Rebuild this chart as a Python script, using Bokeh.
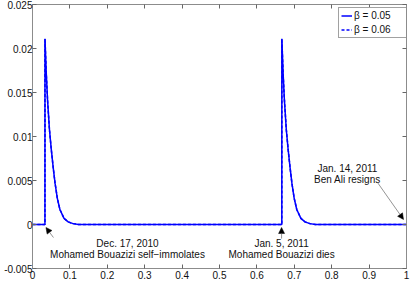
from bokeh.plotting import figure
from bokeh.models import (Range1d, FixedTicker, LinearAxis, Legend, LegendItem,
                          Label, Arrow, NormalHead)
from bokeh.embed import file_html
from bokeh.resources import INLINE

# ---- data ----
t_beta005 = [0, 0.0333, 0.0334, 0.0368, 0.0403, 0.0453, 0.0503, 0.0553, 0.0603,
             0.0663, 0.0733, 0.0843, 0.0953, 0.1083, 0.1233,
             0.6666, 0.6667, 0.6701, 0.6736, 0.6786, 0.6836, 0.6886, 0.6936,
             0.6996, 0.7066, 0.7176, 0.7286, 0.7416, 0.7566, 1.0]
r_beta005 = [0, 0, 0.0211, 0.0172, 0.0141, 0.0108, 0.0085, 0.0065, 0.0047,
             0.0030, 0.0017, 0.0007, 0.0003, 0.0001, 0.0,
             0, 0.0211, 0.0172, 0.0141, 0.0108, 0.0085, 0.0065, 0.0047,
             0.0030, 0.0017, 0.0007, 0.0003, 0.0001, 0.0, 0.0]
t_beta006 = list(t_beta005)
r_beta006 = list(r_beta005)

x_ticks = [0, 0.1, 0.2, 0.3, 0.4, 0.5, 0.6, 0.7, 0.8, 0.9, 1.0]
x_tick_labels = ["0", "0.1", "0.2", "0.3", "0.4", "0.5", "0.6", "0.7", "0.8", "0.9", "1"]
y_ticks = [-0.005, 0, 0.005, 0.01, 0.015, 0.02, 0.025]
y_tick_labels = ["-0.005", "0", "0.005", "0.01", "0.015", "0.02", "0.025"]

series_labels = ["\u03b2 = 0.05", "\u03b2 = 0.06"]

events_t = [0.0333, 0.6667, 1.0]
event_line1 = ["Dec. 17, 2010", "Jan. 5, 2011", "Jan. 14, 2011"]
event_line2 = ["Mohamed Bouazizi self\u2212immolates", "Mohamed Bouazizi dies", "Ben Ali resigns"]

FONT = "Liberation Sans"
AX = "#8c8c8c"
TXT = "#111111"

p = figure(width=415, height=291, output_backend="svg", toolbar_location=None,
           x_range=Range1d(0, 1), y_range=Range1d(-0.005, 0.025),
           min_border_left=32, min_border_right=9, min_border_top=4,
           min_border_bottom=23)
p.xgrid.visible = False
p.ygrid.visible = False
p.outline_line_color = AX
p.background_fill_color = "white"
p.border_fill_color = "white"

def style_axis(ax, ticks, labels, show_labels=True, standoff=2):
    ax.ticker = FixedTicker(ticks=ticks)
    ax.major_label_overrides = {k: v for k, v in zip(ticks, labels)}
    ax.axis_label = None
    ax.axis_line_color = AX
    ax.major_tick_line_color = "#666666"
    ax.major_tick_in = 4
    ax.major_tick_out = 0
    ax.minor_tick_line_color = None
    ax.major_label_text_font = FONT
    ax.major_label_text_font_size = "10px" if show_labels else "0px"
    ax.major_label_text_color = TXT
    ax.major_label_standoff = standoff if show_labels else 0

style_axis(p.xaxis[0], x_ticks, x_tick_labels, standoff=2)
style_axis(p.yaxis[0], y_ticks, y_tick_labels, standoff=0)

top_ax = LinearAxis()
style_axis(top_ax, x_ticks, [""] * len(x_ticks), show_labels=False)
p.add_layout(top_ax, "above")
right_ax = LinearAxis()
style_axis(right_ax, y_ticks, [""] * len(y_ticks), show_labels=False)
p.add_layout(right_ax, "right")

l2 = p.line(t_beta006, r_beta006, line_color="#0000ff", line_width=1.5, line_dash="3 2")
l1 = p.line(t_beta005, r_beta005, line_color="#0000ff", line_width=1.5)

legend = Legend(items=[LegendItem(label=series_labels[0], renderers=[l1]),
                       LegendItem(label=series_labels[1], renderers=[l2])],
                location=(306, 230), margin=0, padding=2, spacing=3,
                glyph_width=11, glyph_height=11, label_height=11, label_width=50,
                label_standoff=2,
                label_text_font=FONT, label_text_font_size="10px", label_text_color=TXT,
                border_line_color="#444444", border_line_width=0.8,
                background_fill_color="white", background_fill_alpha=1)
p.add_layout(legend)

# axis titles
p.add_layout(Label(x=0, y=0.0093, x_offset=-26, text="r(t)", angle=1.5708,
                   text_align="center", text_baseline="middle",
                   text_font=FONT, text_font_size="10px", text_color=TXT))
p.add_layout(Label(x=0.499, y=-0.005, y_offset=-16, text="Time (t)",
                   text_align="center", text_baseline="middle",
                   text_font=FONT, text_font_size="10px", text_color=TXT))

# annotations
text_pos = [(0.254, -0.00216), (0.666, -0.00216), (0.842, 0.00636)]
for (tx, y1), s1, s2 in zip(text_pos, event_line1, event_line2):
    p.add_layout(Label(x=tx, y=y1, text=s1, text_align="center", text_baseline="middle",
                       text_font=FONT, text_font_size="10px", text_color=TXT))
    p.add_layout(Label(x=tx, y=y1, y_offset=-10.5, text=s2, text_align="center",
                       text_baseline="middle",
                       text_font=FONT, text_font_size="10px", text_color=TXT))

arrow_tails = [(0.056, -0.00148), (events_t[1] - 0.0007, -0.0016), (0.922, 0.0048)]
arrow_heads = [(0.036, -0.00034), (events_t[1] - 0.0007, -0.00034), (0.992, 0.00057)]
for (x0, y0), (x1, y1) in zip(arrow_tails, arrow_heads):
    p.add_layout(Arrow(end=NormalHead(size=6, fill_color="black", line_color="black", line_width=0.5),
                       x_start=x0, y_start=y0, x_end=x1, y_end=y1,
                       line_color="#666666", line_width=0.7))

open("out.html", "w").write(file_html(p, INLINE))
